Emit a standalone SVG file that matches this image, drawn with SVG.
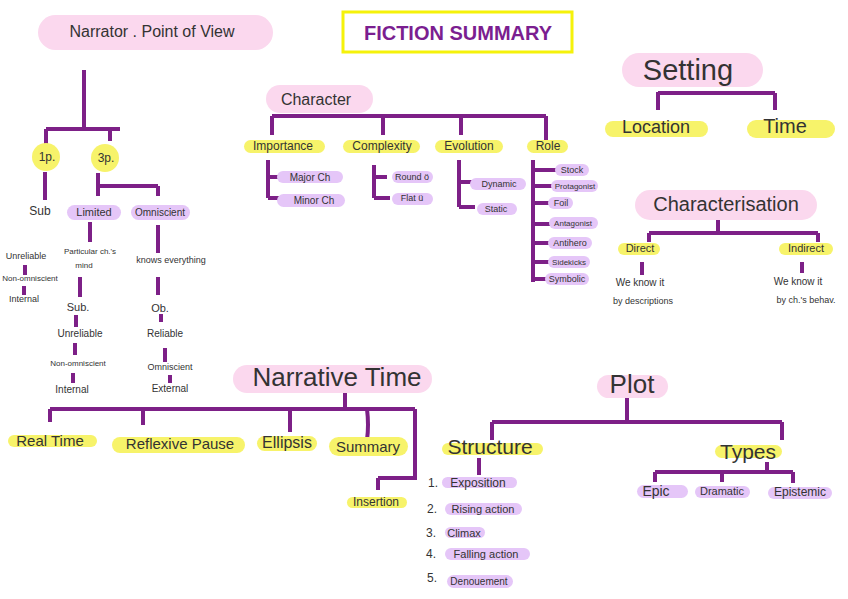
<svg xmlns="http://www.w3.org/2000/svg" width="848" height="599" viewBox="0 0 848 599">
<style>
.ln{stroke:#7d2087;stroke-width:4;fill:none;stroke-linecap:butt}
.pk{fill:#fbd8ee}
.yl{fill:#f7f36a}
.lv{fill:#e5c6f8}
text{font-family:"Liberation Sans",Arial,sans-serif;fill:#333333;text-anchor:middle;dominant-baseline:central}
.tt{font-weight:bold;fill:#7b1e90;font-size:20px}
</style>
<rect width="848" height="599" fill="#ffffff"/>
<g id="title">
<rect x="343" y="12" width="229" height="40" fill="none" stroke="#f5f20a" stroke-width="3"/>
<text class="tt" x="458" y="33">FICTION SUMMARY</text>
</g>
<g id="connectors">
<path class="ln" d="M84 70V130M46 129H120M46 129V145M110 129V141"/>
<path class="ln" d="M45 172V200"/>
<path class="ln" d="M98 173V196M98 186H158M158 186V196"/>
<path class="ln" d="M90 222V242M80 277V297M76 315V327M75 343V355M73 373V383"/>
<path class="ln" d="M158 225V253M158 277V295M161 314V322M165 348V362M170 375V383"/>
<path class="ln" d="M25 265V275M24 286V295" stroke-width="3"/>
<path class="ln" d="M272 116H546M272 116V135M383 116V135M461 116V135M546 116V140"/>
<path class="ln" d="M268 160V198M268 177H282M268 198H282"/>
<path class="ln" d="M374 165V198M374 177H387M374 198H390"/>
<path class="ln" d="M459 160V207M459 182H473M459 207H475"/>
<path class="ln" d="M533 160V282M533 170H557M533 186H553M533 203H550M533 224H550M533 243H549M533 262H549M533 279H547"/>
<path class="ln" d="M658 92V110M658 93H775M775 93V110"/>
<path class="ln" d="M718 220V233M649 233H818M649 233V242M818 233V242" stroke-width="3"/>
<path class="ln" d="M642 262V275M802 262V273" stroke-width="3"/>
<path class="ln" d="M345 393V409M50 409H415M50 409V422M143 409V425M290 409V432M367 409Q369 425 367 440M415 409V478H378M378 478V490"/>
<path class="ln" d="M627 398V422M492 422H782M492 422V440M782 422V440"/>
<path class="ln" d="M479 458V475"/>
<path class="ln" d="M767 462V472M655 472H793M655 472V482M722 472V482M793 472V483"/>
</g>
<g id="narrator">
<rect class="pk" x="38" y="15" width="235" height="35" rx="17.5"/>
<text x="152" y="31" font-size="16">Narrator . Point of View</text>
</g>
<g id="p1"><circle class="yl" cx="46" cy="157" r="14"/><text x="47" y="157" font-size="12">1p.</text></g>
<g id="p3"><circle class="yl" cx="105" cy="158" r="14"/><text x="106" y="158" font-size="12">3p.</text></g>
<g id="sub1"><text x="40" y="211" font-size="12">Sub</text></g>
<g id="sub1-list">
<text x="26" y="256" font-size="9">Unreliable</text>
<text x="30" y="278" font-size="8">Non-omniscient</text>
<text x="24" y="299" font-size="9">Internal</text>
</g>
<g id="limited"><rect class="lv" x="67" y="205" width="54" height="15" rx="7.5"/><text x="94" y="212" font-size="11">Limited</text></g>
<g id="omniscient"><rect class="lv" x="131" y="205" width="59" height="15" rx="7.5"/><text x="160" y="212" font-size="10">Omniscient</text></g>
<g id="limited-list">
<text x="90" y="251" font-size="8">Particular ch.'s</text>
<text x="84" y="265" font-size="8">mind</text>
<text x="78" y="307" font-size="11">Sub.</text>
<text x="80" y="333" font-size="10">Unreliable</text>
<text x="78" y="363" font-size="8">Non-omniscient</text>
<text x="72" y="389" font-size="10">Internal</text>
</g>
<g id="omni-list">
<text x="171" y="260" font-size="9">knows everything</text>
<text x="160" y="308" font-size="11">Ob.</text>
<text x="165" y="333" font-size="10">Reliable</text>
<text x="170" y="367" font-size="9">Omniscient</text>
<text x="170" y="388" font-size="10">External</text>
</g>
<g id="character"><rect class="pk" x="266" y="85" width="107" height="28" rx="14"/><text x="316" y="99" font-size="16">Character</text></g>
<g id="importance"><rect class="yl" x="244" y="140" width="81" height="13" rx="6.5"/><text x="283" y="146" font-size="12">Importance</text></g>
<g id="complexity"><rect class="yl" x="343" y="140" width="77" height="13" rx="6.5"/><text x="382" y="146" font-size="12">Complexity</text></g>
<g id="evolution"><rect class="yl" x="435" y="140" width="68" height="13" rx="6.5"/><text x="469" y="146" font-size="12">Evolution</text></g>
<g id="role"><rect class="yl" x="527" y="140" width="41" height="13" rx="6.5"/><text x="548" y="146" font-size="12">Role</text></g>
<g id="major"><rect class="lv" x="277" y="171" width="66" height="12" rx="6"/><text x="310" y="177" font-size="10">Major Ch</text></g>
<g id="minor"><rect class="lv" x="277" y="194" width="68" height="13" rx="6.5"/><text x="314" y="200" font-size="10">Minor Ch</text></g>
<g id="round"><rect class="lv" x="392" y="171" width="41" height="12" rx="6"/><text x="412" y="177" font-size="9">Round ö</text></g>
<g id="flat"><rect class="lv" x="392" y="193" width="41" height="12" rx="6"/><text x="412" y="198" font-size="9">Flat ü</text></g>
<g id="dynamic"><rect class="lv" x="470" y="178" width="56" height="12" rx="6"/><text x="499" y="184" font-size="9">Dynamic</text></g>
<g id="static"><rect class="lv" x="477" y="203" width="40" height="12" rx="6"/><text x="496" y="209" font-size="9">Static</text></g>
<g id="stock"><rect class="lv" x="555" y="164" width="34" height="12" rx="6"/><text x="572" y="170" font-size="9">Stock</text></g>
<g id="protagonist"><rect class="lv" x="551" y="180" width="47" height="12" rx="6"/><text x="575" y="186" font-size="8">Protagonist</text></g>
<g id="foil"><rect class="lv" x="548" y="197" width="25" height="12" rx="6"/><text x="561" y="203" font-size="9">Foil</text></g>
<g id="antagonist"><rect class="lv" x="549" y="217" width="49" height="12" rx="6"/><text x="573" y="223" font-size="8">Antagonist</text></g>
<g id="antihero"><rect class="lv" x="548" y="237" width="44" height="12" rx="6"/><text x="570" y="243" font-size="9">Antihero</text></g>
<g id="sidekicks"><rect class="lv" x="548" y="256" width="42" height="12" rx="6"/><text x="569" y="262" font-size="8">Sidekicks</text></g>
<g id="symbolic"><rect class="lv" x="545" y="273" width="44" height="12" rx="6"/><text x="567" y="279" font-size="9">Symbolic</text></g>
<g id="setting"><rect class="pk" x="622" y="53" width="141" height="34" rx="17"/><text x="688" y="70" font-size="29">Setting</text></g>
<g id="location"><rect class="yl" x="605" y="121" width="103" height="16" rx="8"/><text x="656" y="127" font-size="18">Location</text></g>
<g id="time"><rect class="yl" x="747" y="120" width="88" height="18" rx="9"/><text x="785" y="126" font-size="20">Time</text></g>
<g id="characterisation"><rect class="pk" x="635" y="190" width="182" height="30" rx="15"/><text x="726" y="204" font-size="20">Characterisation</text></g>
<g id="direct"><rect class="yl" x="618" y="243" width="42" height="12" rx="6"/><text x="640" y="248" font-size="11">Direct</text></g>
<g id="indirect"><rect class="yl" x="779" y="243" width="54" height="12" rx="6"/><text x="806" y="248" font-size="11">Indirect</text></g>
<g id="direct-note"><text x="640" y="282" font-size="10">We know it</text><text x="643" y="301" font-size="9">by descriptions</text></g>
<g id="indirect-note"><text x="798" y="281" font-size="10">We know it</text><text x="806" y="300" font-size="9">by ch.'s behav.</text></g>
<g id="narrative-time"><rect class="pk" x="233" y="365" width="199" height="28" rx="14"/><text x="337" y="377" font-size="26">Narrative Time</text></g>
<g id="real-time"><rect class="yl" x="8" y="435" width="89" height="12" rx="6"/><text x="50" y="440" font-size="15">Real Time</text></g>
<g id="reflexive"><rect class="yl" x="112" y="437" width="133" height="16" rx="8"/><text x="180" y="443" font-size="15">Reflexive Pause</text></g>
<g id="ellipsis"><rect class="yl" x="257" y="436" width="60" height="15" rx="7.5"/><text x="287" y="442" font-size="16">Ellipsis</text></g>
<g id="summary"><rect class="yl" x="329" y="437" width="79" height="19" rx="9.5"/><text x="368" y="446" font-size="15">Summary</text></g>
<g id="insertion"><rect class="yl" x="347" y="497" width="60" height="11" rx="5.5"/><text x="376" y="502" font-size="12">Insertion</text></g>
<g id="plot"><rect class="pk" x="597" y="375" width="71" height="23" rx="11.5"/><text x="632" y="384" font-size="26">Plot</text></g>
<g id="structure"><rect class="yl" x="442" y="443" width="101" height="12" rx="6"/><text x="490" y="446" font-size="21">Structure</text></g>
<g id="types"><rect class="yl" x="715" y="445" width="67" height="13" rx="6.5"/><text x="748" y="451" font-size="21">Types</text></g>
<g id="exposition"><rect class="lv" x="442" y="477" width="75" height="11" rx="5.5"/><text x="433" y="483" font-size="12">1.</text><text x="478" y="483" font-size="12">Exposition</text></g>
<g id="rising"><rect class="lv" x="445" y="503" width="77" height="12" rx="6"/><text x="432" y="509" font-size="12">2.</text><text x="483" y="509" font-size="11">Rising action</text></g>
<g id="climax"><rect class="lv" x="445" y="527" width="40" height="11" rx="5.5"/><text x="431" y="533" font-size="12">3.</text><text x="464" y="533" font-size="11">Climax</text></g>
<g id="falling"><rect class="lv" x="445" y="548" width="85" height="12" rx="6"/><text x="431" y="554" font-size="12">4.</text><text x="486" y="554" font-size="11">Falling action</text></g>
<g id="denouement"><rect class="lv" x="447" y="575" width="66" height="13" rx="6.5"/><text x="432" y="578" font-size="12">5.</text><text x="479" y="581" font-size="10">Denouement</text></g>
<g id="epic"><rect class="lv" x="637" y="485" width="51" height="13" rx="6.5"/><text x="656" y="491" font-size="14">Epic</text></g>
<g id="dramatic"><rect class="lv" x="695" y="486" width="55" height="12" rx="6"/><text x="722" y="491" font-size="11">Dramatic</text></g>
<g id="epistemic"><rect class="lv" x="768" y="487" width="64" height="12" rx="6"/><text x="800" y="492" font-size="12">Epistemic</text></g>
</svg>
